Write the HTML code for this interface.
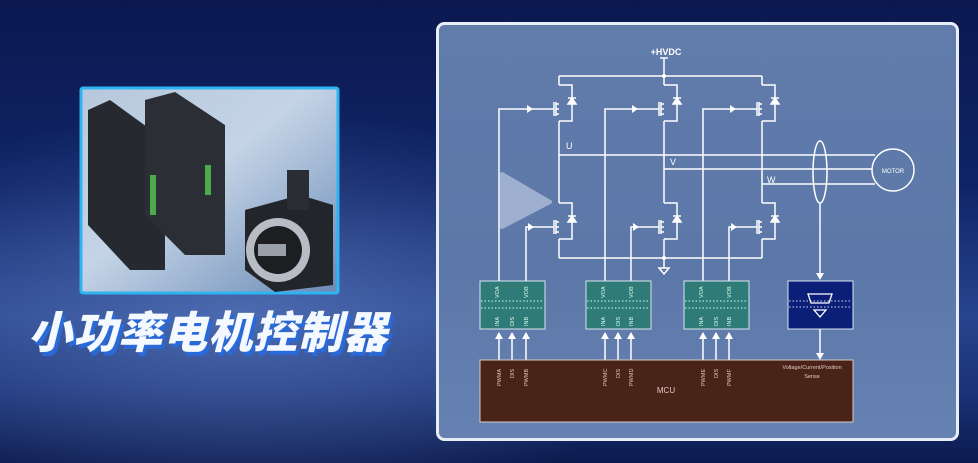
<!DOCTYPE html>
<html><head><meta charset="utf-8"><style>
html,body{margin:0;padding:0;width:978px;height:463px;overflow:hidden;background:#0d1a4a}
svg{display:block}
</style></head><body>
<svg width="978" height="463" viewBox="0 0 978 463" xmlns="http://www.w3.org/2000/svg">
<defs>
<linearGradient id="bg" x1="0" y1="0" x2="0" y2="1">
<stop offset="0" stop-color="#0b1850"/><stop offset="0.4" stop-color="#0f2466"/><stop offset="0.68" stop-color="#27448e"/><stop offset="0.85" stop-color="#1a3276"/><stop offset="1" stop-color="#0c1a4e"/>
</linearGradient>
<radialGradient id="glow" cx="0.25" cy="0.68" r="0.45">
<stop offset="0" stop-color="#7a9ad8" stop-opacity="0.45"/><stop offset="1" stop-color="#7a9ad8" stop-opacity="0"/>
</radialGradient>
<linearGradient id="panel" x1="0" y1="0" x2="0" y2="1">
<stop offset="0" stop-color="#617cab"/><stop offset="0.6" stop-color="#5c78a8"/><stop offset="1" stop-color="#6682b3"/>
</linearGradient>
<linearGradient id="pic" x1="0" y1="0" x2="1" y2="1">
<stop offset="0" stop-color="#b8c8dc"/><stop offset="0.45" stop-color="#c4d4e6"/><stop offset="1" stop-color="#6a8ab6"/>
</linearGradient>
<g id="mos" fill="none" stroke="#fff" stroke-width="1.5">
<path d="M0,-24 H13 V12 H0"/>
<path d="M9,-5 L17,-5 L13,-11 Z" fill="#fff"/>
<line x1="9" y1="-11" x2="17" y2="-11"/>
<line x1="-8" y1="0" x2="-5" y2="0"/>
<line x1="-5" y1="-7" x2="-5" y2="7"/>
<line x1="-3" y1="-7" x2="-3" y2="7"/>
<path d="M-3,-5 H0 M-3,5 H0 M-3,0 H0"/>
</g>
<g id="drv">
<rect x="0" y="0" width="65" height="48" fill="#2f7b78" stroke="#d8e4f0" stroke-width="1"/>
<line x1="1" y1="20" x2="64" y2="20" stroke="#cfe" stroke-width="1" stroke-dasharray="1.5,2"/>
<line x1="1" y1="27" x2="64" y2="27" stroke="#cfe" stroke-width="1" stroke-dasharray="1.5,2"/>
</g>
<g id="ah"><path d="M-4,0 L4,0 L0,-7 Z" fill="#fff"/></g>
</defs>
<rect width="978" height="463" fill="url(#bg)"/>
<rect width="978" height="463" fill="url(#glow)"/>
<!-- left picture -->
<rect x="81" y="88" width="257" height="205" fill="url(#pic)" stroke="#2fb4f2" stroke-width="3" rx="2"/>
<path d="M88,110 L110,100 L165,140 L165,270 L130,270 L88,225 Z" fill="#262a30"/>
<path d="M145,100 L175,92 L225,125 L225,255 L185,255 L145,215 Z" fill="#2b2f35"/>
<rect x="150" y="175" width="6" height="40" fill="#4caa4c"/>
<rect x="205" y="165" width="6" height="30" fill="#4caa4c"/>
<path d="M245,210 L300,195 L333,205 L333,285 L275,292 L245,270 Z" fill="#22252a"/>
<circle cx="278" cy="250" r="32" fill="#b8bcc4"/><circle cx="278" cy="250" r="24" fill="#1c1e22"/>
<rect x="258" y="244" width="28" height="12" fill="#9aa0a8"/>
<rect x="287" y="170" width="22" height="40" fill="#2a2d33"/>
<text x="211" y="352" text-anchor="middle" font-family="'Liberation Sans','Noto Sans CJK SC',sans-serif" font-weight="900" font-size="44" font-style="italic" fill="#2a6ad8" letter-spacing="1">小功率电机控制器</text>
<text x="208" y="348" text-anchor="middle" font-family="'Liberation Sans','Noto Sans CJK SC',sans-serif" font-weight="900" font-size="44" font-style="italic" fill="#f4f8ff" letter-spacing="1">小功率电机控制器</text>
<!-- panel -->
<rect x="437.5" y="23.5" width="520" height="416" rx="7" fill="url(#panel)" stroke="#e8eef8" stroke-width="3"/>
<path d="M502,174 L550,202 L502,227 Z" fill="#b4c2dc" opacity="0.75" stroke="#b4c2dc" stroke-width="4" stroke-linejoin="round"/>
<g fill="none" stroke="#fff" stroke-width="1.5">
<line x1="664" y1="58" x2="664" y2="76"/><line x1="660" y1="58" x2="668" y2="58"/>
<path d="M559,76 H762"/>
<path d="M559,258 H762"/>
<path d="M559,76 V85 M559,121 V203 M559,239 V258"/>
<path d="M664,76 V85 M664,121 V203 M664,239 V258"/>
<path d="M762,76 V85 M762,121 V203 M762,239 V258"/>
<line x1="664" y1="258" x2="664" y2="268"/>
<path d="M659,268 H669 L664,274 Z"/>
<path d="M559,155 H875"/><path d="M664,169 H872"/><path d="M762,184 H875"/>
<circle cx="893" cy="170" r="21"/>
<ellipse cx="820" cy="172" rx="7" ry="31"/>
<line x1="820" y1="203" x2="820" y2="276"/>
<line x1="820" y1="329" x2="820" y2="356"/>
<path d="M499,281 V109 H551"/><path d="M526,281 V227 H551"/>
<path d="M605,281 V109 H656"/><path d="M631,281 V227 H656"/>
<path d="M703,281 V109 H754"/><path d="M729,281 V227 H754"/>
<path d="M499,360 V333 M512,360 V333 M526,360 V333"/>
<path d="M605,360 V333 M618,360 V333 M631,360 V333"/>
<path d="M703,360 V333 M716,360 V333 M729,360 V333"/>
</g>
<g fill="#fff">
<path d="M527,105 L533,109 L527,113 Z"/><path d="M632,105 L638,109 L632,113 Z"/><path d="M730,105 L736,109 L730,113 Z"/>
<path d="M528,223 L534,227 L528,231 Z"/><path d="M633,223 L639,227 L633,231 Z"/><path d="M731,223 L737,227 L731,231 Z"/>
<circle cx="664" cy="76" r="2"/><circle cx="664" cy="258" r="2"/>
<path d="M816,273 L824,273 L820,280 Z"/><path d="M816,353 L824,353 L820,360 Z"/>
</g>
<use href="#mos" x="559" y="109"/><use href="#mos" x="664" y="109"/><use href="#mos" x="762" y="109"/>
<use href="#mos" x="559" y="227"/><use href="#mos" x="664" y="227"/><use href="#mos" x="762" y="227"/>
<use href="#ah" x="499" y="339"/><use href="#ah" x="512" y="339"/><use href="#ah" x="526" y="339"/>
<use href="#ah" x="605" y="339"/><use href="#ah" x="618" y="339"/><use href="#ah" x="631" y="339"/>
<use href="#ah" x="703" y="339"/><use href="#ah" x="716" y="339"/><use href="#ah" x="729" y="339"/>
<use href="#drv" x="480" y="281"/><use href="#drv" x="586" y="281"/><use href="#drv" x="684" y="281"/>
<rect x="788" y="281" width="65" height="48" fill="#0b1f78" stroke="#d8e4f0" stroke-width="1"/>
<line x1="789" y1="301" x2="852" y2="301" stroke="#cde" stroke-dasharray="1.5,2"/>
<line x1="789" y1="307" x2="852" y2="307" stroke="#cde" stroke-dasharray="1.5,2"/>
<path d="M808,294 H832 L829,303 H811 Z" fill="none" stroke="#fff" stroke-width="1.3"/>
<path d="M814,310 H826 L820,317 Z" fill="none" stroke="#fff" stroke-width="1.3"/>
<rect x="480" y="360" width="373" height="62" fill="#4a2318" stroke="#d8c8c0" stroke-width="1"/>
<g font-family="'Liberation Sans',sans-serif" fill="#fff">
<text x="666" y="55" font-size="9" text-anchor="middle" font-weight="bold">+HVDC</text>
<text x="566" y="149" font-size="9">U</text>
<text x="670" y="165" font-size="9">V</text>
<text x="767" y="183" font-size="9">W</text>
<text x="893" y="173" font-size="6" text-anchor="middle">MOTOR</text>
<text x="666" y="393" font-size="8" text-anchor="middle" fill="#e0c8c0">MCU</text>
<text x="812" y="369" font-size="5.5" text-anchor="middle" fill="#e0c8c0">Voltage/Current/Position</text>
<text x="812" y="378" font-size="5.5" text-anchor="middle" fill="#e0c8c0">Sense</text>
</g>
<g font-family="'Liberation Sans',sans-serif" font-size="5.5" fill="#dfe">
<g transform="translate(499,298) rotate(-90)"><text>VOA</text></g>
<g transform="translate(528,298) rotate(-90)"><text>VOB</text></g>
<g transform="translate(499,326) rotate(-90)"><text>INA</text></g>
<g transform="translate(514,326) rotate(-90)"><text>DIS</text></g>
<g transform="translate(528,326) rotate(-90)"><text>INB</text></g>
<g transform="translate(605,298) rotate(-90)"><text>VOA</text></g>
<g transform="translate(633,298) rotate(-90)"><text>VOB</text></g>
<g transform="translate(605,326) rotate(-90)"><text>INA</text></g>
<g transform="translate(620,326) rotate(-90)"><text>DIS</text></g>
<g transform="translate(633,326) rotate(-90)"><text>INB</text></g>
<g transform="translate(703,298) rotate(-90)"><text>VOA</text></g>
<g transform="translate(731,298) rotate(-90)"><text>VOB</text></g>
<g transform="translate(703,326) rotate(-90)"><text>INA</text></g>
<g transform="translate(718,326) rotate(-90)"><text>DIS</text></g>
<g transform="translate(731,326) rotate(-90)"><text>INB</text></g>
</g>
<g font-family="'Liberation Sans',sans-serif" font-size="5.5" fill="#e8c8b8">
<g transform="translate(501,386) rotate(-90)"><text>PWMA</text></g>
<g transform="translate(514,378) rotate(-90)"><text>DIS</text></g>
<g transform="translate(528,386) rotate(-90)"><text>PWMB</text></g>
<g transform="translate(607,386) rotate(-90)"><text>PWMC</text></g>
<g transform="translate(620,378) rotate(-90)"><text>DIS</text></g>
<g transform="translate(633,386) rotate(-90)"><text>PWMD</text></g>
<g transform="translate(705,386) rotate(-90)"><text>PWME</text></g>
<g transform="translate(718,378) rotate(-90)"><text>DIS</text></g>
<g transform="translate(731,386) rotate(-90)"><text>PWMF</text></g>
</g>
</svg>
</body></html>
